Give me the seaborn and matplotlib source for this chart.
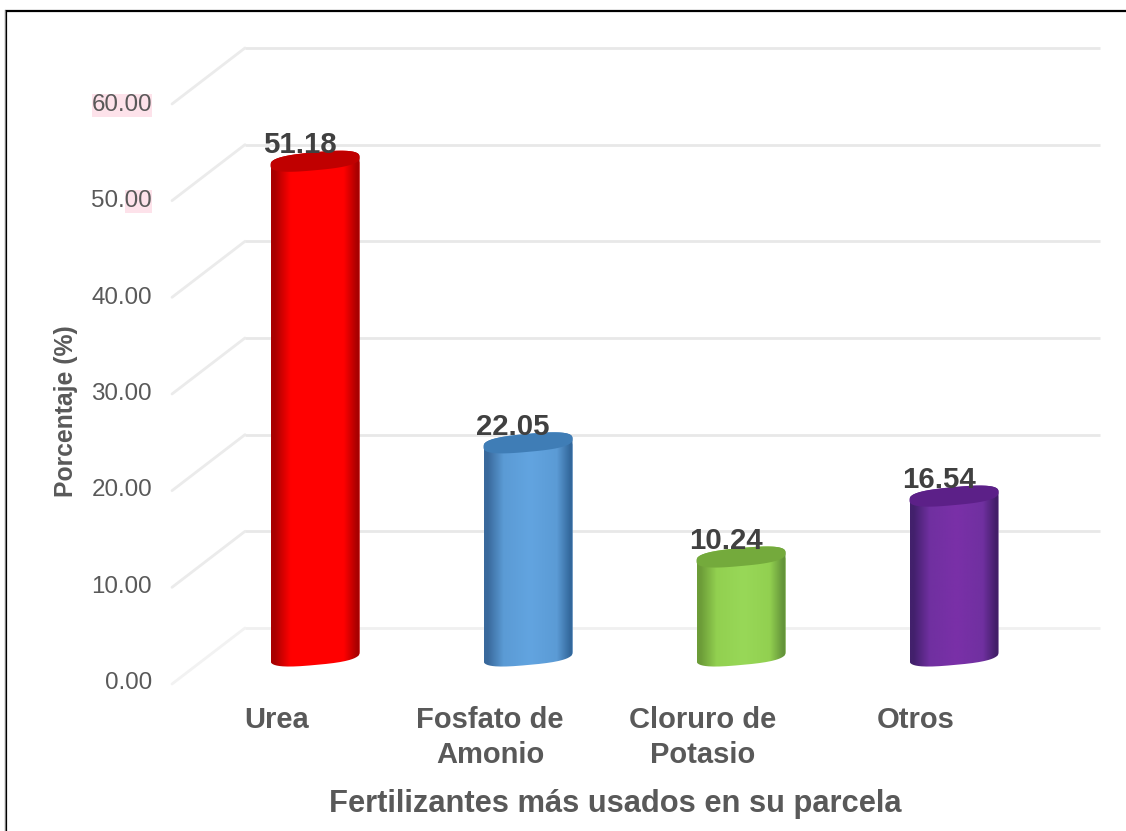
import numpy as np
import pandas as pd
import seaborn as sns
import matplotlib
matplotlib.use("Agg")
import matplotlib.pyplot as plt
from matplotlib.path import Path
from matplotlib.patches import PathPatch, Rectangle
from matplotlib.transforms import Affine2D
from matplotlib.colors import LinearSegmentedColormap

categories = ["Urea", "Fosfato de\nAmonio", "Cloruro de\nPotasio", "Otros"]
values = [51.18, 22.05, 10.24, 16.54]
value_labels = ["51.18", "22.05", "10.24", "16.54"]
y_ticks = [0, 10, 20, 30, 40, 50, 60]

# edge, centre, edge and cap colour of each cylinder
bar_colors = ["#ff0000", "#5b9bd5", "#92d050", "#7030a0"]
shades = [
    ("#a80000", "#ff0000", "#ff0000", "#a80000", "#c00000"),
    ("#39699c", "#5b9bd5", "#62a4e0", "#33689c", "#3f7db6"),
    ("#6c9c38", "#92d050", "#98d858", "#64943a", "#74aa3c"),
    ("#42206c", "#7030a0", "#7a30a8", "#421e68", "#5c2088"),
]

W, H = 1126, 831
sns.set_theme(style="white")
plt.rcParams["font.family"] = ["Liberation Sans", "DejaVu Sans"]
fig = plt.figure(figsize=(W / 100, H / 100), dpi=100)
ax = fig.add_axes([0, 0, 1, 1])

# Full-figure axes: one category is 213 px wide, ten percent is 96.67 px tall.
PX_X, PX_Y = 213.0, 9.667
x0_px, y0_px = 315.0, 656.0
xlim = (-x0_px / PX_X, (W - x0_px) / PX_X)
ylim = (-(H - y0_px) / PX_Y, y0_px / PX_Y)

df = pd.DataFrame({"categoria": categories, "porcentaje": values})
sns.barplot(data=df, x="categoria", y="porcentaje", hue="categoria", palette=bar_colors,
            width=89 / PX_X, legend=False, ax=ax, zorder=3, saturation=1)
ax.set_xlim(*xlim)
ax.set_ylim(*ylim)
sns.despine(ax=ax, left=True, bottom=True)
ax.set_xlabel("")
ax.set_ylabel("")
ax.patch.set_alpha(0)

back_dy = 28
front_dy = -28
x_wall = (245 - x0_px) / PX_X
x_front = (172 - x0_px) / PX_X
x_end = (1100 - x0_px) / PX_X

# Back wall gridlines and the floor diagonals joining them to the front plane
for v in y_ticks:
    wall = "#f0f0f0" if v == 0 else "#e8e8e8"
    diag = "#f2f2f2" if v == 0 else "#ebebeb"
    ax.plot([x_wall, x_end], [v, v], color=wall, lw=2.0,
            transform=ax.transData + Affine2D().translate(0, back_dy), zorder=1,
            solid_capstyle="butt")
    left = ax.transData.transform((x_front, v)) + np.array([0, front_dy])
    right = ax.transData.transform((x_wall, v)) + np.array([0, back_dy])
    ax.plot([left[0], right[0]], [left[1], right[1]], color=diag, lw=2.0, transform=None,
            zorder=1)


def rounded(angle, power=0.72):
    """Superellipse coordinates: slightly squarer than a true ellipse."""
    c, s = np.cos(angle), np.sin(angle)
    return np.sign(c) * np.abs(c) ** power, np.sign(s) * np.abs(s) ** power


# Cylinders: each seaborn bar is clipped to a tilted outline and shaded across its width
half_h, tilt = 9.0 / PX_Y, 4.0 / PX_Y
t = np.linspace(0, np.pi, 80)
ux, uy = rounded(t)
for patch, (c_l, c_m, c_m2, c_r, c_cap), val, lab in zip(ax.patches, shades, values, value_labels):
    x = patch.get_x()
    w = patch.get_width()
    cx = x + w / 2
    a = w / 2
    top_arc = np.column_stack([cx + a * ux, val + half_h * uy + tilt * ux])
    bot_arc = np.column_stack([cx - a * ux, -half_h * uy - tilt * ux])
    outline = np.vstack([top_arc, bot_arc, top_arc[:1]])
    clip = PathPatch(Path(outline), transform=ax.transData, fc="none", ec="none")
    ax.add_patch(clip)
    patch.set_clip_path(clip)
    cmap = LinearSegmentedColormap.from_list(
        "cyl", [(0, c_l), (0.04, c_l), (0.22, c_m), (0.52, c_m2), (0.82, c_m), (0.97, c_r), (1, c_r)])
    img = ax.imshow(np.linspace(0, 1, 256).reshape(1, -1), cmap=cmap, aspect="auto",
                    extent=(x, x + w, -half_h - tilt - 1, val + half_h + tilt + 1), zorder=4,
                    interpolation="bilinear")
    img.set_clip_path(clip)
    # darker cap on the top of the cylinder
    th = np.linspace(0, 2 * np.pi, 160)
    qx, qy = rounded(th)
    cap = np.column_stack([cx + a * qx, val + half_h * qy + tilt * qx])
    ax.add_patch(PathPatch(Path(cap), fc=c_cap, ec="none", zorder=5))
    ax.annotate(lab, (cx, val), xytext=(-15, 16), textcoords="offset pixels", ha="center",
                va="center", fontsize=21.2, fontweight="bold", color="#404040", zorder=6)

ax.set_xlim(*xlim)
ax.set_ylim(*ylim)

# Category labels sit left of the bars, below the floor of the chart
ax.set_xticks(np.arange(len(categories)) - 38 / PX_X)
ax.set_xticklabels(categories, fontsize=21, fontweight="bold", color="#595959", linespacing=1.3)
ax.tick_params(axis="x", length=0, pad=-90)

# Value axis labels on the front plane
ax.set_yticks([])
for v in y_ticks:
    px_y = H - (683 - 9.633 * v)
    ax.text(152, px_y, f"{v:.2f}", transform=None, ha="right", va="center", fontsize=17.4,
            color="#595959", zorder=6)

# Pink highlight behind the two upper tick labels
for x_px, w_px, y_px in [(92, 60, 94), (125, 27, 190)]:
    fig.add_artist(Rectangle((x_px / W, 1 - (y_px + 23) / H), w_px / W, 23 / H,
                             transform=fig.transFigure, fc="#fde2ea", ec="none", zorder=-1))

fig.text(66 / W, 1 - 411 / H, "Porcentaje (%)", rotation=90, ha="center", va="center",
         fontsize=17.8, fontweight="bold", color="#595959")
fig.text(615 / W, 1 - 804 / H, "Fertilizantes más usados en su parcela", ha="center", va="center",
         fontsize=22.2, fontweight="bold", color="#595959")

# Black frame along the top and left of the chart
fig.add_artist(plt.Line2D([6 / W, 6 / W, 1], [0, 1 - 11 / H, 1 - 11 / H], color="black", lw=1.6,
                          solid_joinstyle="miter", transform=fig.transFigure))
fig.add_artist(plt.Line2D([4.5 / W, 4.5 / W], [0, 1 - 10 / H], color="#808080", lw=0.7,
                          transform=fig.transFigure))

fig.savefig("out.png", dpi=100, facecolor="white")
